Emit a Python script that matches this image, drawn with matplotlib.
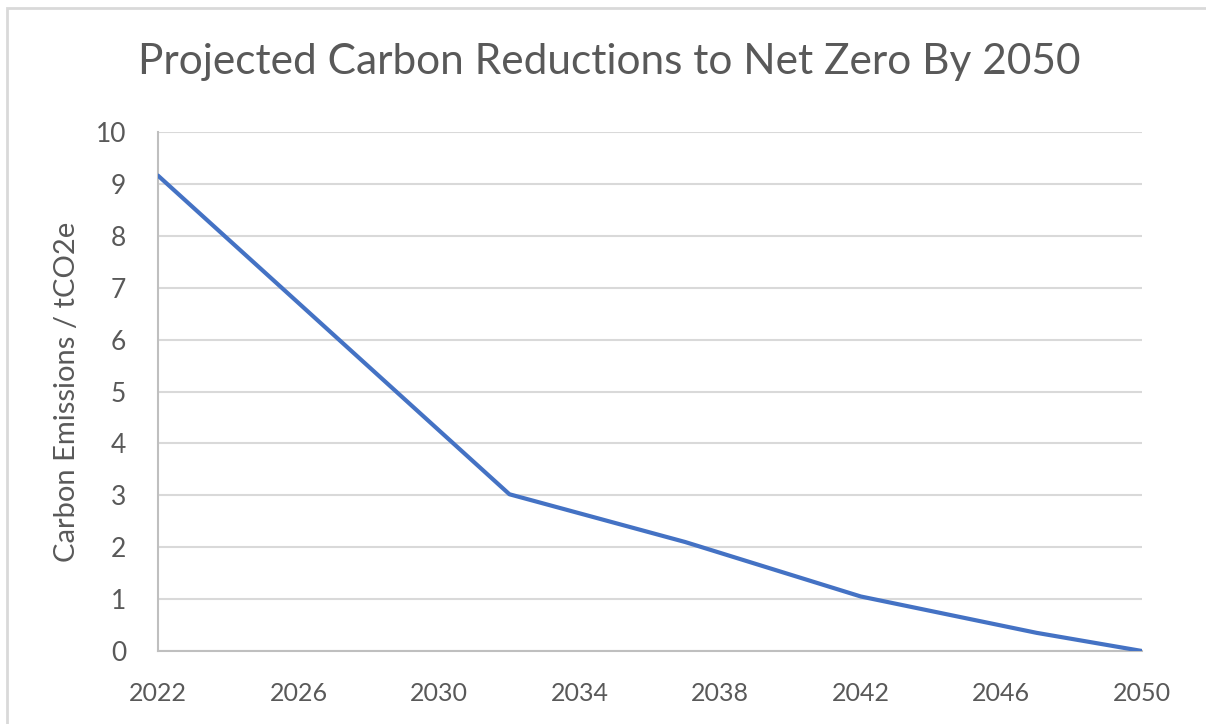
import matplotlib.pyplot as plt
from matplotlib.patches import Rectangle

# Projected emissions pathway (tCO2e)
years = [2022, 2032, 2037, 2042, 2047, 2050]
emissions = [9.16, 3.02, 2.1, 1.05, 0.35, 0.0]

x_ticks = [2022, 2026, 2030, 2034, 2038, 2042, 2046, 2050]
y_ticks = [0, 1, 2, 3, 4, 5, 6, 7, 8, 9, 10]

TEXT_GREY = "#595959"
GRID_GREY = "#d9d9d9"
LINE_BLUE = "#4472c4"

plt.rcParams["font.family"] = ["Lato", "DejaVu Sans"]

fig = plt.figure(figsize=(12.06, 7.24), dpi=100)
ax = fig.add_axes([158 / 1206, 1 - 651 / 724, (1142 - 158) / 1206, (651 - 132) / 724])

# chart-area frame (Excel style), runs off the right/bottom edge
fig.patches.append(Rectangle((7 / 1206, -0.05), 1.1, 1 - 8 / 724 + 0.05,
                             transform=fig.transFigure, fill=False,
                             edgecolor="#d9d9d9", linewidth=2))

ax.plot(years, emissions, color=LINE_BLUE, linewidth=3, solid_capstyle="round",
        solid_joinstyle="round", zorder=3)

ax.set_xlim(2022, 2050)
ax.set_ylim(0, 10)
ax.set_xticks(x_ticks)
ax.set_yticks(y_ticks)
ax.grid(axis="y", color=GRID_GREY, linewidth=1.5)
ax.set_axisbelow(True)

for side in ["top", "right"]:
    ax.spines[side].set_visible(False)
ax.spines["left"].set_color("#bfbfbf")
ax.spines["left"].set_linewidth(1.5)
ax.spines["bottom"].set_color("#bfbfbf")
ax.spines["bottom"].set_linewidth(1.5)

ax.tick_params(axis="both", length=0, labelsize=18, labelcolor=TEXT_GREY)
ax.tick_params(axis="x", pad=22)
ax.tick_params(axis="y", labelsize=19, pad=23)

ax.set_ylabel("Carbon Emissions / tCO2e", fontsize=21, color=TEXT_GREY, labelpad=11)
fig.text(0.505, 1 - 62 / 724, "Projected Carbon Reductions to Net Zero By 2050",
         ha="center", va="center", fontsize=30.5, color=TEXT_GREY)

fig.savefig("out.png", dpi=100)
